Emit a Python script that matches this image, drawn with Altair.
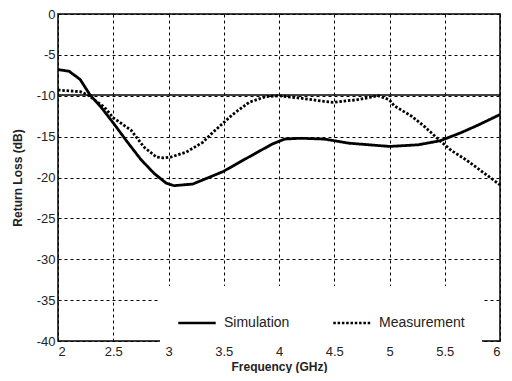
import altair as alt
import pandas as pd

# Simulation curve (GHz, dB)
sim_freq = [2.0, 2.1, 2.2, 2.29, 2.39, 2.51, 2.63, 2.75, 2.87, 2.98, 3.05, 3.22,
            3.49, 3.70, 3.94, 4.05, 4.2, 4.41, 4.63, 5.0, 5.26, 5.46, 5.65, 5.8, 6.0]
sim_rl = [-6.8, -7.0, -8.0, -9.9, -11.4, -13.5, -15.7, -17.8, -19.5, -20.7, -21.0, -20.8,
          -19.3, -17.7, -15.9, -15.3, -15.2, -15.3, -15.8, -16.2, -16.0, -15.5, -14.5, -13.6, -12.3]

# Measurement curve (GHz, dB)
meas_freq = [2.0, 2.1, 2.2, 2.27, 2.42, 2.5, 2.66, 2.78, 2.89, 2.95, 3.02, 3.16, 3.31,
             3.4, 3.58, 3.73, 3.88, 4.0, 4.2, 4.41, 4.49, 4.7, 4.9, 5.0, 5.04, 5.2,
             5.32, 5.44, 5.56, 5.7, 5.84, 6.0]
meas_rl = [-9.3, -9.4, -9.5, -9.9, -11.4, -12.7, -14.2, -16.3, -17.5, -17.6, -17.5, -16.9, -15.7,
           -14.5, -12.3, -10.8, -10.1, -10.0, -10.3, -10.7, -10.8, -10.5, -10.0, -10.5, -11.2, -12.5,
           -13.8, -15.3, -16.7, -17.9, -19.3, -20.9]

threshold = [-9.9]
series_names = ["Simulation", "Measurement"]
x_ticks = [2, 2.5, 3, 3.5, 4, 4.5, 5, 5.5, 6]
y_ticks = [0, -5, -10, -15, -20, -25, -30, -35, -40]

df = pd.concat([
    pd.DataFrame({"freq": sim_freq, "rl": sim_rl, "series": series_names[0]}),
    pd.DataFrame({"freq": meas_freq, "rl": meas_rl, "series": series_names[1]}),
])

x_enc = alt.X("freq:Q", scale=alt.Scale(domain=[2, 6], nice=False),
              axis=alt.Axis(values=x_ticks, title="Frequency (GHz)", labelExpr="'' + datum.value",
                            labelPadding=4, titlePadding=3))
y_enc = alt.Y("rl:Q", scale=alt.Scale(domain=[-40, 0], nice=False),
              axis=alt.Axis(values=y_ticks, title="Return Loss (dB)", labelExpr="'' + datum.value",
                            labelPadding=3, titlePadding=12))

lines = alt.Chart(df).mark_line(color="black", strokeWidth=2.8).encode(
    x=x_enc,
    y=y_enc,
    strokeDash=alt.StrokeDash(
        "series:N",
        scale=alt.Scale(domain=series_names, range=[[1, 0], [2.5, 1.8]]),
        legend=alt.Legend(
            title=None, orient="none", legendX=102, legendY=272, direction="horizontal",
            fillColor="white", padding=17, symbolType="stroke", symbolSize=1400,
            symbolStrokeWidth=2.5, symbolStrokeColor="black", labelFontSize=14,
            labelOffset=7, columnPadding=38, labelFont="Liberation Sans", labelColor="#222",
        ),
    ),
    order="freq:Q",
)

rule = alt.Chart(pd.DataFrame({"rl": threshold})).mark_rule(color="black", strokeWidth=1.6).encode(
    y=alt.Y("rl:Q")
)

chart = alt.layer(rule, lines).properties(
    width=442, height=327,
    autosize=alt.AutoSizeParams(type="none"),
    padding={"left": 50, "top": 6, "right": 4, "bottom": 32},
).configure_view(
    stroke="black", strokeWidth=1.5
).configure_axis(
    grid=True, gridColor="black", gridDash=[3, 3], gridOpacity=1, gridWidth=1,
    domain=False, ticks=False,
    labelFont="Liberation Sans", labelFontSize=13, labelColor="#222",
    titleFont="Liberation Sans", titleFontSize=12, titleFontWeight="bold", titleColor="#222",
)

chart.save("out.html", embed_options={"renderer": "svg", "actions": False})
